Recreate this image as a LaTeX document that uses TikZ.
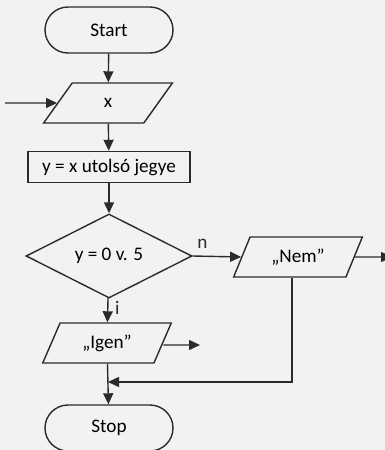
\documentclass[tikz,border=0pt]{standalone}
\usepackage{fontspec}
\setmainfont{Carlito}
\usepackage{tikz}
\usetikzlibrary{positioning,arrows.meta,shapes.geometric,calc}
\definecolor{clinea}{HTML}{2B2B2B}
\definecolor{cfondo}{HTML}{F1F2F4}
\tikzset{
  terminal/.style={rectangle, rounded corners=11.5pt, draw=clinea, line width=0.7pt,
    minimum width=64pt, minimum height=23pt, font=\fontsize{9.6}{12}\selectfont},
  entrada/.style={trapezium, trapezium left angle=69, trapezium right angle=111,
    trapezium stretches=true, draw=clinea, line width=0.7pt,
    minimum width=64.5pt, minimum height=20pt, font=\fontsize{9.6}{12}\selectfont},
  proceso/.style={rectangle, draw=clinea, line width=0.7pt,
    minimum width=81pt, minimum height=15.5pt, font=\fontsize{9.6}{12}\selectfont},
  decision/.style={diamond, draw=clinea, line width=0.7pt, inner sep=0pt,
    minimum width=83pt, minimum height=34pt, font=\fontsize{9.6}{12}\selectfont},
  flecha/.style={-{Triangle[length=5.5pt,width=5pt]}, line width=0.7pt, draw=clinea},
  etq/.style={font=\fontsize{9.6}{12}\selectfont, text=clinea},
}

\begin{document}
\begin{tikzpicture}[x=0.5pt, y=-0.5pt]
  \clip (0,0) rectangle (385,450);
  \fill[cfondo] (0,0) rectangle (385,450);
  % main column
  \node[terminal] (start) at (109,30) {Start};
  \node[entrada] (inx) at (108,103) {x};
  \node[proceso] (jegy) at (109,167) {y = x utolsó jegye};
  \node[decision] (dont) at (109,256) {y = 0 v. 5};
  \node[entrada] (igen) at (107,343) {„Igen”};
  \node[terminal] (stop) at (109,428) {Stop};
  % right branch
  \node[entrada] (nem) at (298,257) {„Nem”};
  \coordinate (be) at (5,103);
  \coordinate (kinem) at (392,257);
  \coordinate (kiigen) at (200,345);
  \coordinate (junta) at (108,382);
  \draw[flecha] (start) -- (inx);
  \draw[flecha] (be) -- (inx.west);
  \draw[flecha] (inx) -- (jegy);
  \draw[flecha] (jegy) -- (dont);
  \draw[flecha] (dont) -- (igen) node[pos=0.4, right, etq] {i};
  \draw[flecha] (dont.east) -- (nem.west) node[pos=0.2, above, etq] {n};
  \draw[flecha] (nem.east) -- (kinem);
  \draw[flecha] ([yshift=-1pt]igen.east) -- (kiigen);
  \draw[flecha] (igen) -- (stop);
  \draw[flecha] ([xshift=-3pt]nem.south) |- (junta);
\end{tikzpicture}
\end{document}
